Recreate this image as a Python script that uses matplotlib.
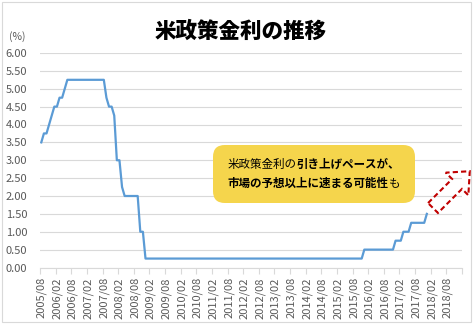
import numpy as np
import pandas as pd
import matplotlib
matplotlib.use("Agg")
import matplotlib.pyplot as plt
from matplotlib.patches import FancyBboxPatch, Polygon, Rectangle

plt.rcParams['font.family'] = ['Noto Sans CJK JP', 'DejaVu Sans']

# 米国の政策金利（FF金利誘導目標、月次）2005/08 - 2017/12
rates = [
    3.50, 3.75, 3.75, 4.00, 4.25,                                        # 2005
    4.50, 4.50, 4.75, 4.75, 5.00, 5.25, 5.25, 5.25, 5.25, 5.25, 5.25, 5.25,  # 2006
    5.25, 5.25, 5.25, 5.25, 5.25, 5.25, 5.25, 5.25, 4.75, 4.50, 4.50, 4.25,  # 2007
    3.00, 3.00, 2.25, 2.00, 2.00, 2.00, 2.00, 2.00, 2.00, 1.00, 1.00, 0.25,  # 2008
    0.25, 0.25, 0.25, 0.25, 0.25, 0.25, 0.25, 0.25, 0.25, 0.25, 0.25, 0.25,  # 2009
    0.25, 0.25, 0.25, 0.25, 0.25, 0.25, 0.25, 0.25, 0.25, 0.25, 0.25, 0.25,  # 2010
    0.25, 0.25, 0.25, 0.25, 0.25, 0.25, 0.25, 0.25, 0.25, 0.25, 0.25, 0.25,  # 2011
    0.25, 0.25, 0.25, 0.25, 0.25, 0.25, 0.25, 0.25, 0.25, 0.25, 0.25, 0.25,  # 2012
    0.25, 0.25, 0.25, 0.25, 0.25, 0.25, 0.25, 0.25, 0.25, 0.25, 0.25, 0.25,  # 2013
    0.25, 0.25, 0.25, 0.25, 0.25, 0.25, 0.25, 0.25, 0.25, 0.25, 0.25, 0.25,  # 2014
    0.25, 0.25, 0.25, 0.25, 0.25, 0.25, 0.25, 0.25, 0.25, 0.25, 0.25, 0.50,  # 2015
    0.50, 0.50, 0.50, 0.50, 0.50, 0.50, 0.50, 0.50, 0.50, 0.50, 0.50, 0.75,  # 2016
    0.75, 0.75, 1.00, 1.00, 1.00, 1.25, 1.25, 1.25, 1.25, 1.25, 1.25, 1.50,  # 2017
]

# カテゴリ軸は 2005/08 から 2019/01 まで（2018年以降は空欄）
months = pd.period_range('2005-08', '2019-01', freq='M').strftime('%Y/%m').tolist()
label_step = 6

title = '米政策金利の推移'
note_lines = [
    [('米政策金利の', 'normal'), ('引き上げペースが、', 'bold')],
    [('市場の予想以上に速まる可能性', 'bold'), ('も', 'normal')],
]

W, H = 474, 324
grey_txt = '#595959'
grid_c = '#D9D9D9'

fig = plt.figure(figsize=(W / 100, H / 100), dpi=100)
fig.patch.set_facecolor('white')


def fx(px):
    return px / W


def fy(py):
    return 1 - py / H


# chart frame
fig.patches.append(Rectangle((fx(2), fy(322)), fx(471) - fx(2), fy(2) - fy(322),
                             transform=fig.transFigure, fill=False,
                             edgecolor=grid_c, linewidth=0.8))

ax = fig.add_axes([fx(40), fy(267.5), fx(462) - fx(40), fy(53) - fy(267.5)])
x = np.arange(len(rates))
ax.plot(x, rates, color='#5B9BD5', linewidth=1.6, solid_joinstyle='round')

ax.set_xlim(-0.5, len(months) - 0.5)
ax.set_ylim(0, 6)
ax.set_yticks(np.arange(0, 6.01, 0.5))
ax.set_yticklabels([f'{v:.2f}' for v in np.arange(0, 6.01, 0.5)])
ax.grid(axis='y', color=grid_c, linewidth=0.8)
ax.set_axisbelow(True)

ticks = list(range(0, len(months), label_step))
ax.set_xticks(ticks)
ax.set_xticklabels([months[i] for i in ticks], rotation=90)
ax.set_xticks(np.arange(-0.5, len(months), label_step), minor=True)
ax.tick_params(axis='x', which='major', length=0, pad=7, labelsize=8, labelcolor=grey_txt)
ax.tick_params(axis='x', which='minor', length=4, color=grid_c, width=0.8)
ax.tick_params(axis='y', length=0, pad=9, labelsize=8, labelcolor=grey_txt)

for s in ['top', 'right', 'left']:
    ax.spines[s].set_visible(False)
ax.spines['bottom'].set_color(grid_c)
ax.spines['bottom'].set_linewidth(0.8)

fig.text(fx(17), fy(37), '(%)', ha='center', va='center', fontsize=7.5, color=grey_txt)
fig.text(fx(241), fy(31), title, ha='center', va='center', fontsize=15.5,
         fontweight='black', color='black')

# yellow note box
box = FancyBboxPatch((fx(213), fy(203)), fx(415) - fx(213), fy(145) - fy(203),
                     boxstyle='round,pad=0,rounding_size=0.025',
                     transform=fig.transFigure, facecolor='#F5D54C', edgecolor='none',
                     mutation_aspect=W / H)
fig.patches.append(box)

renderer = fig.canvas.get_renderer()
for line, py in zip(note_lines, [164, 183]):
    parts = []
    for txt, wt in line:
        t = fig.text(0, fy(py), txt, ha='left', va='center', fontsize=8.3,
                     fontweight=wt, color='black')
        parts.append(t)
    widths = [p.get_window_extent(renderer).width for p in parts]
    cur = 314 - sum(widths) / 2
    for p, w in zip(parts, widths):
        p.set_x(fx(cur))
        cur += w

# dashed block arrow pointing up-right
tail = np.array([433.0, 208.0])
u = np.array([1.0, -1.0]) / np.sqrt(2)
v = np.array([1.0, 1.0]) / np.sqrt(2)
shape = [(0, -7), (34, -7), (34, -16), (52, 0), (34, 16), (34, 7), (0, 7)]
pts = [tail + a * u + b * v for a, b in shape]
pts = [(fx(p[0]), fy(p[1])) for p in pts]
fig.patches.append(Polygon(pts, closed=True, transform=fig.transFigure, fill=False,
                           edgecolor='#C00000', linewidth=1.5, linestyle=(0, (2.5, 1.5))))

fig.savefig('out.png', dpi=100)
